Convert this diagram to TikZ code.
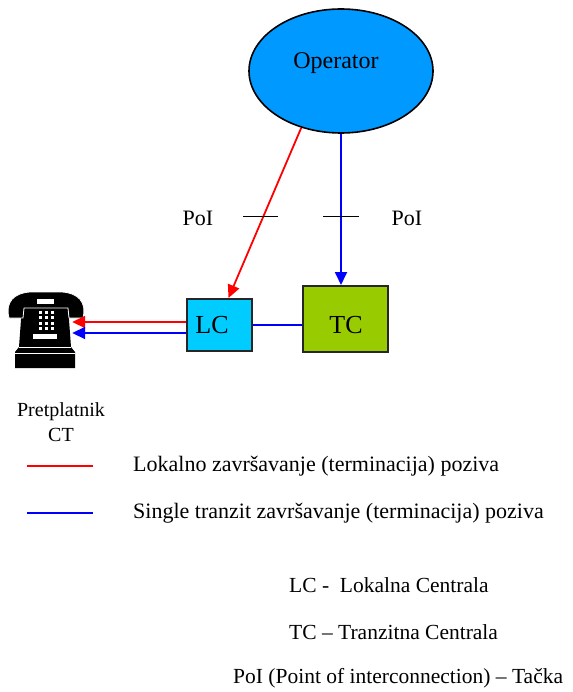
\documentclass[tikz,border=0pt]{standalone}
\usepackage{fontspec}
\setmainfont{Liberation Serif}
\usetikzlibrary{arrows.meta,shapes.geometric,calc}
\definecolor{opblue}{RGB}{0,153,255}
\definecolor{lcblue}{RGB}{0,204,255}
\definecolor{tcgreen}{RGB}{153,204,0}
\definecolor{red0}{RGB}{255,0,0}
\definecolor{blue0}{RGB}{0,0,255}
\tikzset{
  bigtxt/.style={font=\fontsize{24}{28}\selectfont, inner sep=0pt},
  txt/.style={font=\fontsize{22}{26}\selectfont, inner sep=0pt},
  notetxt/.style={font=\fontsize{21.5}{26}\selectfont, inner sep=0pt},
  subtxt/.style={font=\fontsize{20}{25}\selectfont, inner sep=0pt},
  boxtxt/.style={font=\fontsize{26}{30}\selectfont, inner sep=0pt},
  boxnode/.style={draw=black!85, line width=2pt, inner sep=0pt},
  redline/.style={draw=red0, line width=1.8pt},
  blueline/.style={draw=blue0, line width=1.8pt},
  tip/.style={-{Triangle[length=13pt,width=12pt]}},
  tick/.style={draw=black, line width=1pt},
}
\begin{document}
\begin{tikzpicture}[x=1pt,y=-1pt]
\useasboundingbox (0,0) rectangle (572,692);
% operator
\node[ellipse, draw=black, line width=1.6pt, fill=opblue, minimum width=184pt, minimum height=124pt, inner sep=0pt] (op) at (341,71) {};
\node[bigtxt] (optext) at (336,63) {Operator};
% boxes
\node[boxnode, fill=lcblue, minimum width=65pt, minimum height=52pt] (lc) at (219.5,325) {};
\node[boxtxt] (lctext) at (212,325) {LC};
\node[boxnode, fill=tcgreen, minimum width=85pt, minimum height=66pt] (tc) at (345.5,319) {};
\node[boxtxt] (tctext) at (346,325) {TC};
% phone
\node[minimum width=60pt, minimum height=75pt, inner sep=0pt] (phone) at (42,330) {};
\fill[black] (22,306) -- (68,306) -- (71,347) -- (75,352) -- (75,368) -- (15,368) -- (15,352) -- (19,347) -- cycle;
\draw[white, line width=0.8pt] (19,347.5) -- (71,347.5);
\draw[white, line width=0.8pt] (15,353) -- (75,353);
\fill[black, draw=white, line width=0.8pt] (9,318) .. controls (5,302) and (14,293) .. (30,292) -- (62,292) .. controls (78,293) and (87,302) .. (83,318) -- (69,318) -- (68,308) -- (24,308) -- (23,318) -- cycle;
\fill[white] (37,299) rectangle (54,303.5);
\foreach \r in {0,1,2,3}{\foreach \c in {0,1,2}{\fill[white] ({38.5+6*\c},{310.5+5.5*\r}) rectangle +(3.2,3.2);}}
\fill[white] (33,334) rectangle (57,338.5);
% connectors
\draw[redline, tip] (op.235) -- ($(lc.north)+(9,0)$);
\draw[blueline, tip] (op.south) -- (op.south |- tc.north);
\draw[blueline] (lc.east) -- (lc.east -| tc.west);
\draw[redline, tip] ($(lc.west)+(0,-3)$) -- ($(lc.west -| phone.east)+(0,-3)$);
\draw[blueline, tip] ($(lc.west)+(0,8)$) -- ($(lc.west -| phone.east)+(0,8)$);
% PoI ticks
\draw[tick] (243,217) -- (278,217);
\draw[tick] (323,217) -- (359,217);
\node[txt] (poil) at (198,218) {PoI};
\node[txt] (poir) at (407,218) {PoI};
% subscriber label
\node[subtxt, align=center] (sub) at (61,422) {Pretplatnik\\CT};
% legend
\coordinate (r1) at (27,466); \coordinate (r2) at (93,466);
\coordinate (b1) at (27,513); \coordinate (b2) at (93,513);
\draw[redline, line width=1.6pt] (r1) -- (r2);
\draw[blueline, line width=1.6pt] (b1) -- (b2);
\node[txt, anchor=west] (leg1) at (133,466) {Lokalno završavanje (terminacija) poziva};
\node[txt, anchor=west] (leg2) at (133,513) {Single tranzit završavanje (terminacija) poziva};
\node[notetxt, anchor=west] (n1) at (289,585) {LC -\ \ Lokalna Centrala};
\node[notetxt, anchor=west] (n2) at (289,632) {TC – Tranzitna Centrala};
\node[notetxt, anchor=west] (n3) at (233,678) {PoI (Point of interconnection) – Tačka};
\end{tikzpicture}
\end{document}
